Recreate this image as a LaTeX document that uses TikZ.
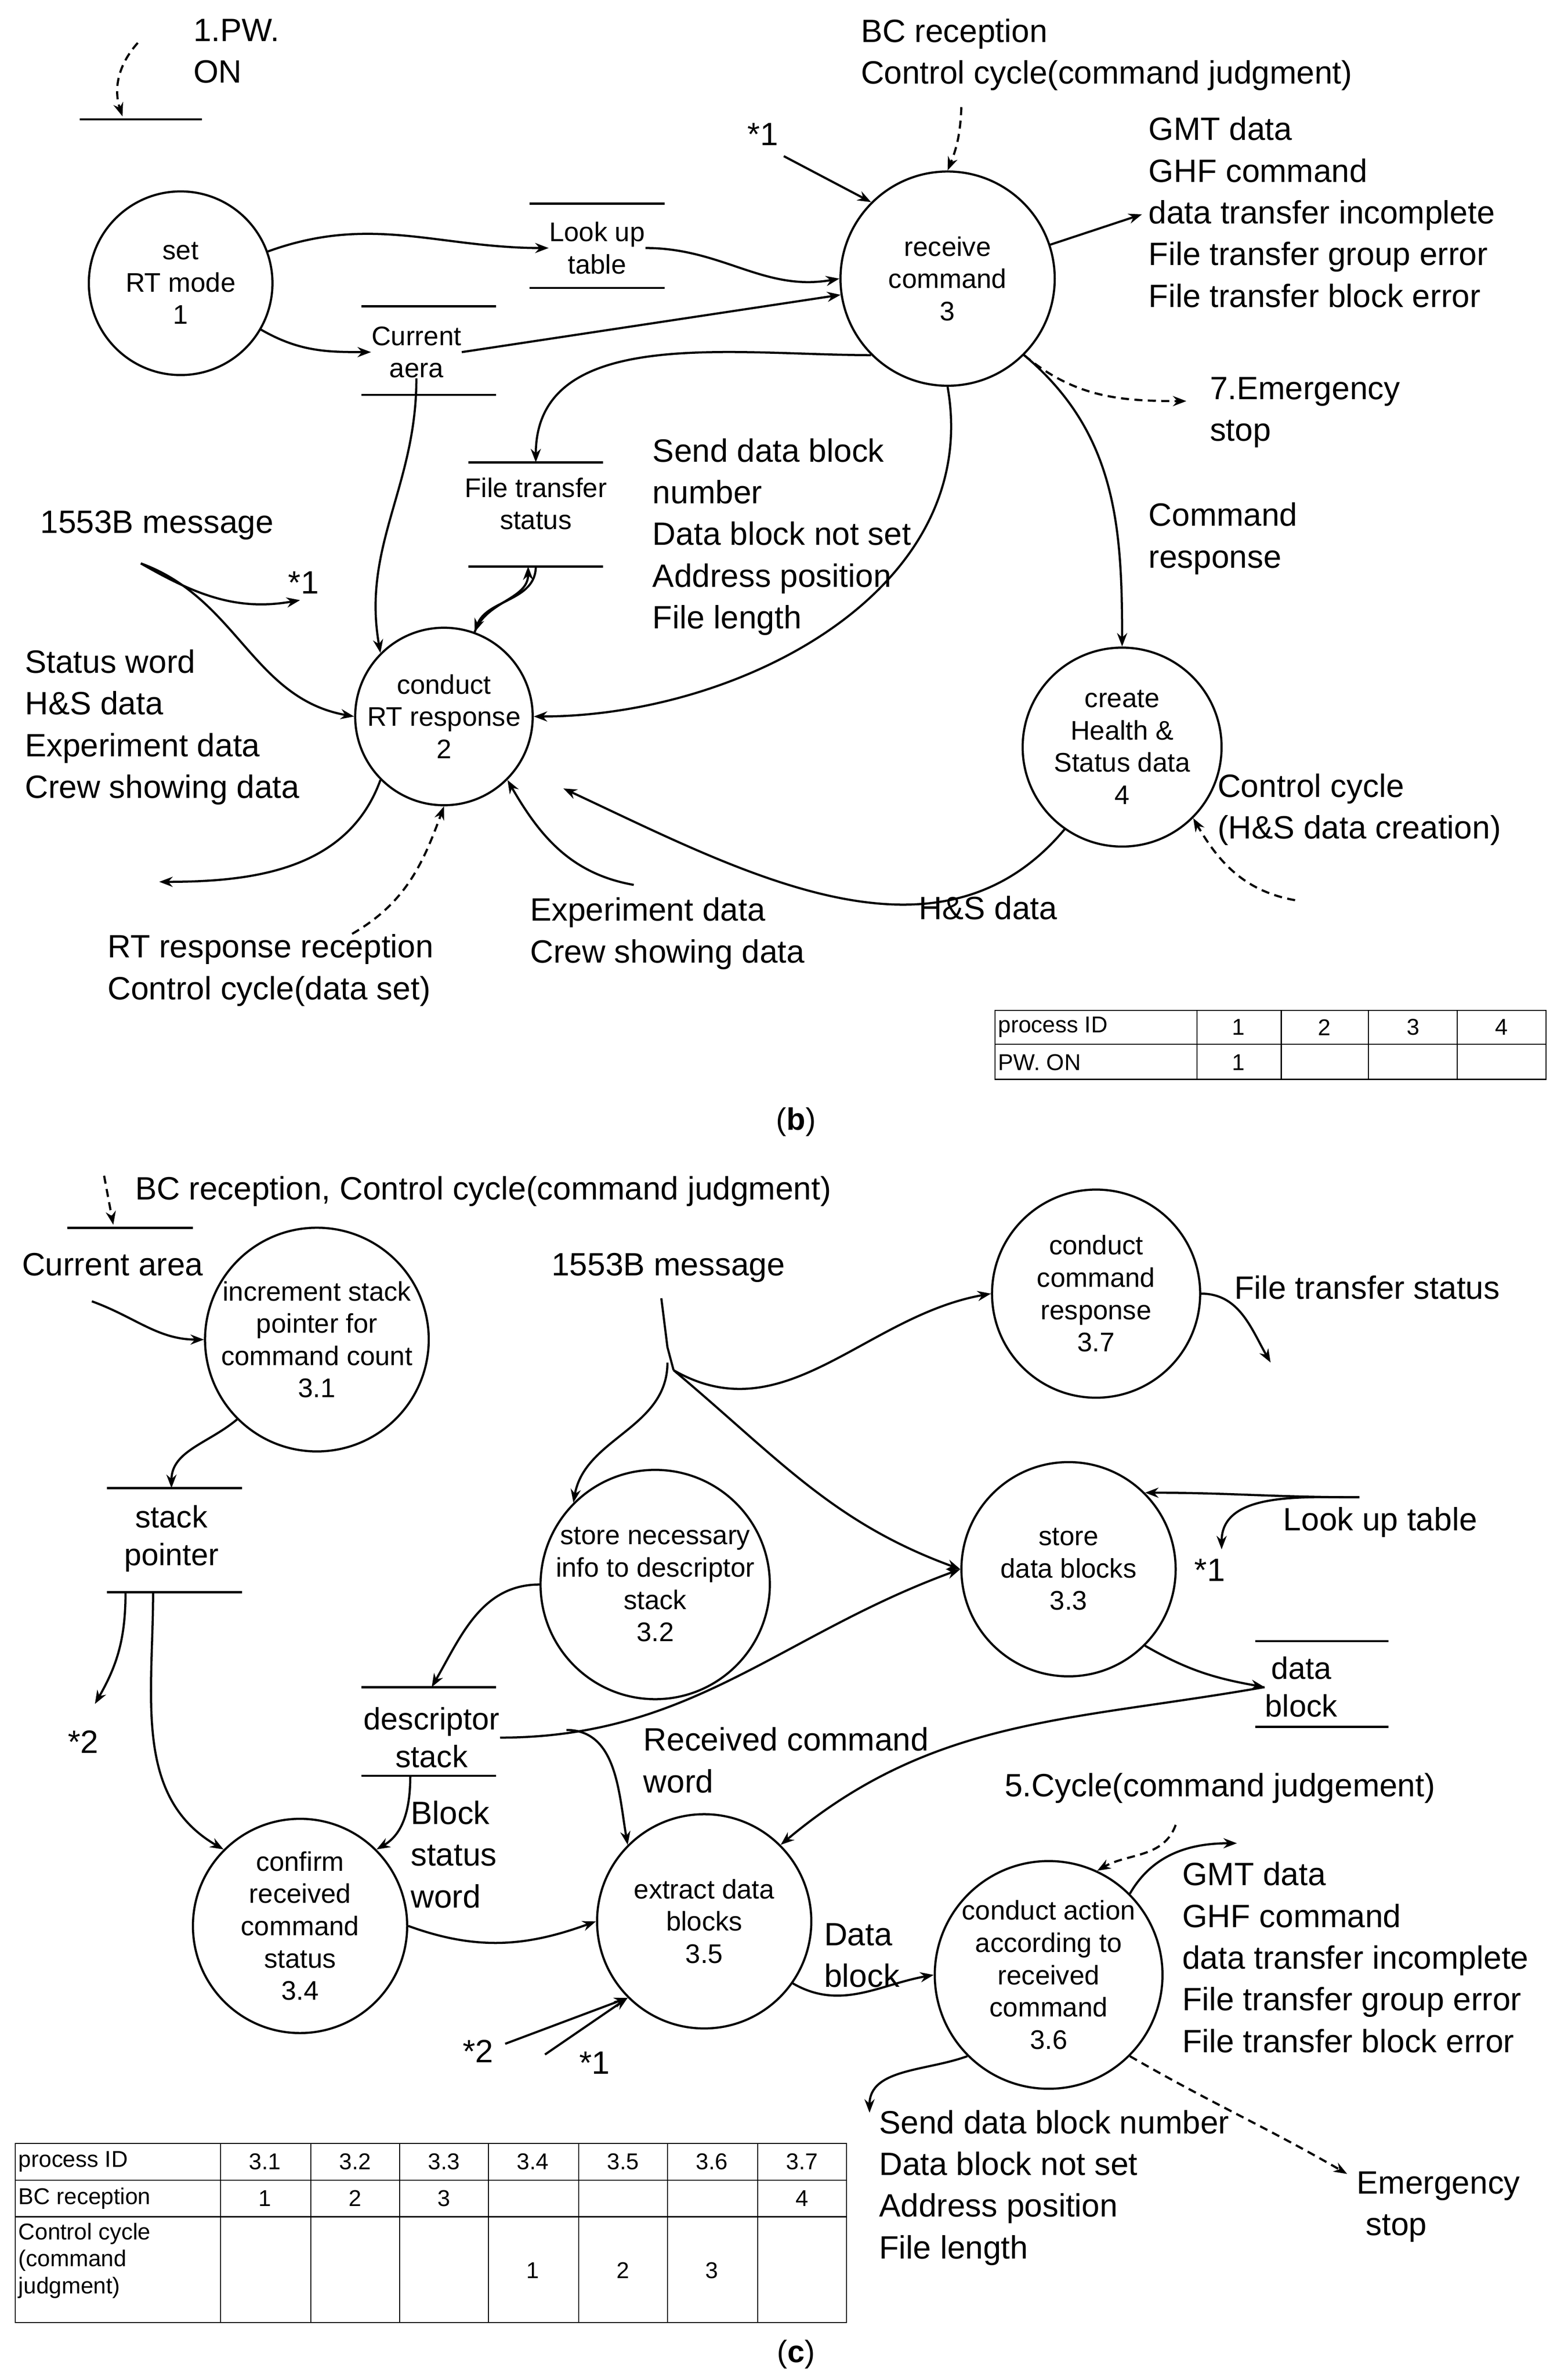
\documentclass[tikz,border=0pt]{standalone}
\usepackage{fontspec}
\setmainfont{Liberation Sans}
\usetikzlibrary{arrows.meta}
\begin{document}
\begin{tikzpicture}[x=0.02cm,y=-0.02cm,
 proc/.style={circle,draw,thick,minimum size=#1*0.04cm,align=center,inner sep=0pt,font=\fontsize{10}{12}\selectfont},
 t/.style={align=left,anchor=north west,inner sep=0pt,font=\fontsize{12}{15.5}\selectfont},
 ts/.style={align=center,inner sep=0pt,font=\fontsize{10}{12}\selectfont},
 a/.style={-{Stealth[length=5pt]},thick},
 d/.style={-{Stealth[length=5pt]},thick,densely dashed},
 ln/.style={thick}]
\useasboundingbox (0,0) rectangle (1024,1552);
% ---------- (b) ----------
\draw[ln] (52,78)--(132,78);
\coordinate (pw0) at (90,28); \coordinate (pw1) at (80,76);
\draw[d] (pw0) to[bend right=30] (pw1);
\node[t] at (126,12) {1.PW.\\ON};
\node[proc=60] (p1) at (118,185) {set\\RT mode\\1};
\node[proc=70] (p3) at (619,182) {receive\\command\\3};
\node[proc=58] (p2) at (290,468) {conduct\\RT response\\2};
\node[proc=65] (p4) at (733,488) {create\\Health \&\\Status data\\4};
\draw[ln] (346,133)--(434,133) (346,188)--(434,188);
\node[ts] (lut) at (390,162) {Look up\\table};
\draw[ln] (236,200)--(324,200) (236,258)--(324,258);
\node[ts] (cur) at (272,230) {Current\\aera};
\draw[ln] (306,302)--(394,302) (306,370)--(394,370);
\node[ts] (fts) at (350,329) {File transfer\\status};
\node[t] at (562,12) {BC reception\\Control cycle(command judgment)};
\coordinate (bc) at (628,70); \draw[d] (bc) to[bend left=10] (p3.north);
\node[t] at (488,80) {*1};
\coordinate (s1) at (512,102); \draw[a] (s1)--(p3.north west);
\draw[a] (p1) to[out=20,in=180] (lut.west);
\draw[a] (lut.east) to[out=0,in=190] (p3.west);
\draw[a] (p1) to[out=-30,in=180] (cur.west);
\draw[a] (cur.east) -- (p3);
\draw[a] (cur.south) to[out=-90,in=100] (p2.north west);
\draw[a] (p3.south west) to[out=180,in=90] (350,302);
\draw[a] (p2) to[out=70,in=-90] (345,370);
\draw[a] (350,370) to[out=-90,in=70] (p2);
\node[t] at (750,76) {GMT data\\GHF command\\data transfer incomplete\\File transfer group error\\File transfer block error};
\coordinate (gmt) at (746,140); \draw[a] (p3) -- (gmt);
\coordinate (em) at (775,262); \draw[d] (p3.south east) to[out=-40,in=180] (em);
\node[t] at (790,246) {7.Emergency\\stop};
\node[t] at (426,286) {Send data block\\number\\Data block not set\\Address position\\File length};
\draw[a] (p3.south) to[out=-80,in=0] (p2.east);
\node[t] at (750,328) {Command\\response};
\draw[a] (p3.south east) to[out=-40,in=90] (p4.north);
\node[t] at (26,333) {1553B message};
\coordinate (m0) at (92,368); \coordinate (m1) at (196,392);
\draw[a] (m0) to[out=-30,in=190] (m1);
\node[t] at (188,373) {*1};
\draw[a] (m0) to[out=-20,in=170] (p2.west);
\node[t] at (16,424) {Status word\\H\&S data\\Experiment data\\Crew showing data};
\coordinate (sw) at (104,576); \draw[a] (p2.south west) to[out=-110,in=0] (sw);
\coordinate (rt) at (230,610); \draw[d] (rt) to[out=30,in=-110] (p2.south);
\node[t] at (70,610) {RT response reception\\Control cycle(data set)};
\coordinate (ex) at (414,578); \draw[a] (ex) to[out=170,in=-60] (p2.south east);
\node[t] at (346,586) {Experiment data\\Crew showing data};
\coordinate (hs) at (368,515);
\draw[a] (p4.-125) to[out=-130,in=-25] (hs);
\node[t] at (600,585) {H\&S data};
\node[t] at (795,505) {Control cycle\\(H\&S data creation)};
\coordinate (cc) at (846,588); \draw[d] (cc) to[out=170,in=-60] (p4.south east);
% table b
\begin{scope}[font=\fontsize{8.5}{10}\selectfont]
\draw (650,660) rectangle (1010,705); \draw (650,682)--(1010,682);
\foreach \x in {782,837,894,952} \draw (\x,660)--(\x,705);
\node[anchor=west,inner sep=1pt] at (650,671) {process ID};
\node[anchor=west,inner sep=1pt] at (650,694) {PW. ON};
\node at (809,671){1};\node at (865,671){2};\node at (923,671){3};\node at (981,671){4};
\node at (809,694){1};
\end{scope}
\node[font=\fontsize{11.5}{14}\selectfont] at (520,733) {(\textbf{b})};
% ---------- (c) ----------
\draw[ln] (44,802)--(126,802);
\coordinate (c0) at (68,768); \coordinate (c1) at (74,800); \draw[d] (c0)--(c1);
\node[t] at (88,768) {BC reception, Control cycle(command judgment)};
\node[t] at (14,818) {Current area};
\node[proc=68] (q1) at (207,875) {increment stack\\pointer for\\command count\\3.1};
\node[proc=68] (q2) at (428,1035) {store necessary\\info to descriptor\\stack\\3.2};
\node[proc=68] (q7) at (716,845) {conduct\\command\\response\\3.7};
\node[proc=70] (q3) at (698,1025) {store\\data blocks\\3.3};
\node[proc=70] (q4) at (196,1258) {confirm\\received\\command\\status\\3.4};
\node[proc=70] (q5) at (460,1255) {extract data\\blocks\\3.5};
\node[proc=70] (q6) at (685,1290) {conduct action\\according to\\received\\command\\3.6};
\coordinate (ca) at (60,850); \draw[a] (ca) to[out=-20,in=180] (q1.west);
\draw[ln] (70,972)--(158,972) (70,1040)--(158,1040);
\node[ts,font=\fontsize{11.5}{14}\selectfont] (sp) at (112,1005) {stack\\pointer};
\draw[a] (q1.south west) to[out=-140,in=90] (112,972);
\coordinate (s2) at (62,1113); \draw[a] (82,1040) to[out=-90,in=60] (s2);
\node[t] at (44,1130) {*2};
\draw[a] (100,1040) to[out=-90,in=150] (q4.north west);
\node[t] at (360,818) {1553B message};
\coordinate (hub) at (440,895);
\draw[thick] (432,848) -- (436,880) to (hub);
\draw[a] (hub) to[out=-30,in=190] (q7.west);
\draw[a] (hub) to[out=-40,in=160] (q3.west);
\draw[a] (436,890) to[out=-90,in=80] (q2.north west);
\node[t] at (806,833) {File transfer status};
\coordinate (fs) at (830,890); \draw[a] (q7.east) to[out=0,in=120] (fs);
\draw[ln] (820,1072)--(907,1072) (820,1128)--(907,1128);
\node[ts,font=\fontsize{11.5}{14}\selectfont] (db) at (850,1102) {data\\block};
\draw[a] (q3.south east) to[out=-30,in=170] (db.west);
\coordinate (lt) at (888,978); \draw[a] (lt) to[out=180,in=0] (q3.north east);
\coordinate (s1c) at (798,1012); \draw[a] (lt) to[out=180,in=90] (s1c);
\node[t] at (838,984) {Look up table};
\node[t] at (780,1018) {*1};
\draw[ln] (236,1102)--(324,1102) (236,1160)--(324,1160);
\node[ts,font=\fontsize{11.5}{14}\selectfont] (ds) at (282,1135) {descriptor\\stack};
\draw[a] (q2.west) to[out=180,in=60] (282,1102);
\draw[a] (ds.east) to[out=0,in=200] (q3.west);
\draw[a] (370,1130) to[out=0,in=100] (q5.north west);
\draw[a] (268,1160) to[out=-90,in=30] (q4.north east);
\node[t] at (268,1176) {Block\\status\\word};
\node[t] at (420,1128) {Received command\\word};
\draw[a] (db.west) to[out=190,in=40] (q5.north east);
\draw[a] (q4.east) to[out=-20,in=200] (q5.west);
\coordinate (t2) at (330,1335); \draw[a] (t2)--(q5.south west);
\coordinate (t1) at (356,1342); \draw[a] (t1)--(q5.south west);
\node[t] at (302,1332) {*2};
\node[t] at (378,1340) {*1};
\draw[a] (q5.-35) to[out=-30,in=190] (q6.west);
\node[t] at (538,1256) {Data\\block};
\node[t] at (656,1158) {5.Cycle(command judgement)};
\coordinate (cy) at (768,1192); \draw[d] (cy) to[out=-110,in=30] (q6.65);
\node[t] at (772,1216) {GMT data\\GHF command\\data transfer incomplete\\File transfer group error\\File transfer block error};
\coordinate (g6) at (808,1204); \draw[a] (q6.north east) to[out=60,in=180] (g6);
\coordinate (sd) at (568,1380); \draw[a] (q6.south west) to[out=200,in=90] (sd);
\node[t] at (574,1378) {Send data block number\\Data block not set\\Address position\\File length};
\coordinate (es) at (880,1420); \draw[d] (q6.south east) to[out=-30,in=150] (es);
\node[t] at (886,1418) {Emergency\\\ stop};
% table c
\begin{scope}[font=\fontsize{8.5}{10}\selectfont]
\draw (10,1400) rectangle (553,1517); \draw (10,1424)--(553,1424) (10,1448)--(553,1448);
\foreach \x in {144,203,261,319,378,436,495} \draw (\x,1400)--(\x,1517);
\node[anchor=west,inner sep=1pt] at (10,1412) {process ID};
\node[anchor=west,inner sep=1pt] at (10,1436) {BC reception};
\node[anchor=north west,align=left,inner sep=1pt] at (10,1450) {Control cycle\\(command\\judgment)};
\foreach \x/\l in {173/3.1,232/3.2,290/3.3,348/3.4,407/3.5,465/3.6,524/3.7} \node at (\x,1412) {\l};
\node at (173,1436){1};\node at (232,1436){2};\node at (290,1436){3};\node at (524,1436){4};
\node at (348,1483){1};\node at (407,1483){2};\node at (465,1483){3};
\end{scope}
\node[font=\fontsize{11.5}{14}\selectfont] at (520,1538) {(\textbf{c})};
\end{tikzpicture}
\end{document}
